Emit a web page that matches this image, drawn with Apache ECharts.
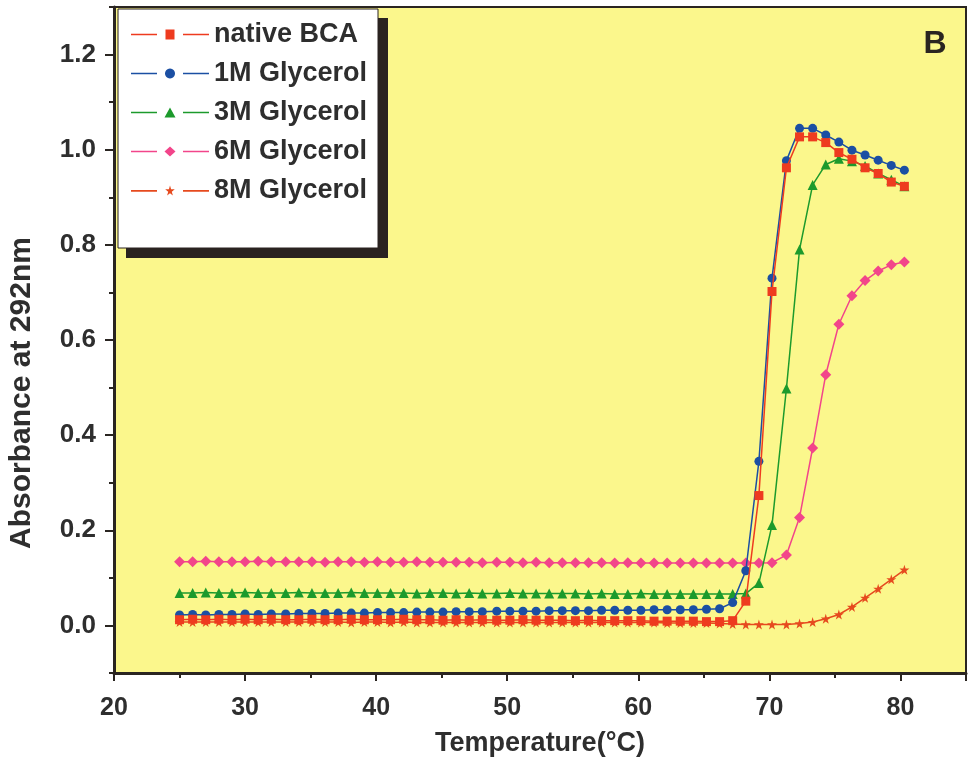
<!DOCTYPE html>
<html>
<head>
<meta charset="utf-8">
<script src="https://cdn.jsdelivr.net/npm/echarts@6/dist/echarts.min.js"></script>
<style>
html,body{margin:0;padding:0;background:#fff;}
#chart{width:969px;height:764px;}
</style>
</head>
<body>
<div id="chart"></div>
<script>
const temps = [25,26,27,28,29,30,31,32,33.1,34.1,
  35.1,36.1,37.1,38.1,39.1,40.1,41.1,42.1,43.1,44.1,
  45.1,46.1,47.1,48.1,49.2,50.2,51.2,52.2,53.2,54.2,
  55.2,56.2,57.2,58.2,59.2,60.2,61.2,62.2,63.2,64.2,
  65.2,66.2,67.2,68.2,69.2,70.2,71.3,72.3,73.3,74.3,
  75.3,76.3,77.3,78.3,79.3,80.3];

const seriesNames = ['native BCA','1M Glycerol','3M Glycerol','6M Glycerol','8M Glycerol'];

const nativeBCA = [0.012,0.013,0.012,0.013,0.012,0.013,0.012,0.013,0.012,0.012,
  0.013,0.012,0.012,0.013,0.012,0.012,0.012,0.013,0.012,0.012,
  0.011,0.012,0.011,0.012,0.011,0.011,0.012,0.011,0.011,0.011,
  0.010,0.011,0.010,0.010,0.010,0.010,0.009,0.009,0.009,0.009,
  0.008,0.008,0.010,0.051,0.273,0.702,0.962,1.027,1.027,1.015,
  0.994,0.980,0.962,0.950,0.932,0.923];

const glycerol1M = [0.022,0.023,0.022,0.023,0.023,0.024,0.023,0.024,0.024,0.025,
  0.025,0.025,0.026,0.026,0.026,0.027,0.027,0.027,0.028,0.028,
  0.028,0.029,0.029,0.029,0.030,0.030,0.030,0.030,0.031,0.031,
  0.031,0.031,0.032,0.032,0.032,0.032,0.033,0.033,0.033,0.033,
  0.034,0.035,0.048,0.115,0.345,0.730,0.977,1.045,1.045,1.031,
  1.016,0.999,0.989,0.978,0.967,0.957];

const glycerol3M = [0.068,0.068,0.069,0.068,0.068,0.069,0.068,0.068,0.068,0.069,
  0.068,0.068,0.068,0.069,0.068,0.068,0.068,0.068,0.067,0.068,
  0.068,0.067,0.068,0.067,0.067,0.068,0.067,0.067,0.067,0.067,
  0.067,0.066,0.067,0.066,0.066,0.067,0.066,0.066,0.066,0.066,
  0.066,0.066,0.066,0.067,0.089,0.211,0.498,0.790,0.926,0.969,
  0.981,0.976,0.966,0.950,0.937,0.923];

const glycerol6M = [0.134,0.134,0.135,0.134,0.134,0.134,0.135,0.134,0.134,0.134,
  0.134,0.133,0.134,0.134,0.133,0.134,0.133,0.133,0.134,0.133,
  0.133,0.133,0.133,0.132,0.133,0.133,0.132,0.133,0.132,0.132,
  0.132,0.132,0.132,0.131,0.132,0.131,0.131,0.131,0.131,0.131,
  0.131,0.131,0.131,0.131,0.131,0.132,0.148,0.227,0.373,0.527,
  0.633,0.693,0.725,0.745,0.758,0.764];

const glycerol8M = [0.007,0.007,0.007,0.007,0.007,0.007,0.007,0.007,0.007,0.007,
  0.007,0.007,0.007,0.006,0.007,0.007,0.006,0.007,0.006,0.006,
  0.006,0.006,0.006,0.006,0.006,0.006,0.006,0.006,0.006,0.006,
  0.006,0.006,0.006,0.006,0.006,0.006,0.006,0.005,0.005,0.005,
  0.005,0.004,0.003,0.002,0.002,0.002,0.002,0.004,0.007,0.014,
  0.023,0.039,0.058,0.077,0.097,0.117];

const xMajorTicks = [20,30,40,50,60,70,80];
const yMajorTicks = [0.0,0.2,0.4,0.6,0.8,1.0,1.2];

const colors = ['#ee3b1f','#1b4fa3','#1c9a2c','#f2458a','#e64a1e'];
const starPath = 'path://M50,0 L61,35 L98,35 L68,57 L79,91 L50,70 L21,91 L32,57 L2,35 L39,35 Z';
const symbols = ['rect','circle','triangle','diamond', starPath];
const sizes = [9,9,10,11,10];
const zs = [7,6,5,4,3];
const allValues = [nativeBCA, glycerol1M, glycerol3M, glycerol6M, glycerol8M];

const axisColor = '#2a2521';
const textColor = '#2e2e2e';
const fontFam = '"Liberation Sans", Arial, sans-serif';

// legend icons: "— symbol —" drawn as one filled path (width 78, height 10)
const segs = 'M0,4.2 L26,4.2 L26,5.8 L0,5.8 Z M52,4.2 L78,4.2 L78,5.8 L52,5.8 Z ';
function circlePoly(cx, cy, r) {
  let s = '';
  for (let k = 0; k < 24; k++) {
    const a = k / 24 * Math.PI * 2;
    s += (k === 0 ? 'M' : 'L') + (cx + r * Math.cos(a)).toFixed(2) + ',' + (cy + r * Math.sin(a)).toFixed(2) + ' ';
  }
  return s + 'Z';
}
const legendIcons = [
  'path://' + segs + 'M34.5,0 L43.5,0 L43.5,10 L34.5,10 Z',
  'path://' + segs + circlePoly(39, 5, 5),
  'path://' + segs + 'M39,0 L44.5,10 L33.5,10 Z',
  'path://' + segs + 'M39,0 L44.5,5 L39,10 L33.5,5 Z',
  'path://' + segs + 'M39,0 L40.1,3.5 L43.8,3.5 L40.8,5.7 L41.9,9.1 L39,7 L36.1,9.1 L37.2,5.7 L34.2,3.5 L37.9,3.5 Z'
];

const chart = echarts.init(document.getElementById('chart'), null, {renderer:'canvas'});

const series = seriesNames.map((name, i) => ({
  name: name,
  type: 'line',
  xAxisIndex: 0,
  yAxisIndex: 0,
  data: temps.map((t, k) => [t, allValues[i][k]]),
  symbol: symbols[i],
  symbolSize: sizes[i],
  showAllSymbol: true,
  z: zs[i],
  lineStyle: {color: colors[i], width: 1.5},
  itemStyle: {color: colors[i]},
  animation: false
}));

chart.setOption({
  animation: false,
  backgroundColor: '#ffffff',
  grid: {
    left: 114, right: 3, top: 7, bottom: 91,
    show: true,
    backgroundColor: '#fbf78c',
    borderColor: axisColor,
    borderWidth: 2
  },
  legend: {
    data: seriesNames.map((n, i) => ({name: n, icon: legendIcons[i]})),
    orient: 'vertical',
    left: 126,
    top: 16,
    itemWidth: 78,
    itemHeight: 10,
    itemGap: 12,
    symbolKeepAspect: false,
    z: 20,
    textStyle: {fontSize: 27, fontWeight: 'bold', color: textColor, fontFamily: fontFam}
  },
  xAxis: [
    {
      type: 'value', min: 20, max: 85, interval: 10, position: 'bottom',
      name: 'Temperature(°C)', nameLocation: 'middle', nameGap: 57,
      nameTextStyle: {fontSize: 27, fontWeight: 'bold', color: textColor, fontFamily: fontFam},
      axisLine: {show: true, onZero: false, lineStyle: {color: axisColor, width: 3}},
      axisTick: {show: true, length: 8, lineStyle: {color: axisColor, width: 2}},
      axisLabel: {
        margin: 23, fontSize: 25, fontWeight: 'bold', color: textColor, fontFamily: fontFam,
        formatter: v => xMajorTicks.indexOf(v) >= 0 ? String(v) : ''
      },
      splitLine: {show: false}
    },
    {
      type: 'value', min: 20, max: 85, interval: 5, position: 'bottom',
      axisLine: {show: false, onZero: false},
      axisTick: {show: true, length: 5, lineStyle: {color: axisColor, width: 2}},
      axisLabel: {show: false},
      splitLine: {show: false}
    }
  ],
  yAxis: [
    {
      type: 'value', min: -0.1, max: 1.3, interval: 0.1, position: 'left',
      axisLine: {show: true, onZero: false, lineStyle: {color: axisColor, width: 3}},
      axisTick: {show: true, length: 5, lineStyle: {color: axisColor, width: 2}},
      axisLabel: {show: false},
      splitLine: {show: false}
    },
    {
      type: 'value', min: -0.1, max: 1.3, position: 'left',
      axisLine: {show: false, onZero: false},
      axisTick: {show: true, length: 9, customValues: yMajorTicks, lineStyle: {color: axisColor, width: 2}},
      axisLabel: {
        show: true, customValues: yMajorTicks, margin: 18,
        fontSize: 26, fontWeight: 'bold', color: textColor, fontFamily: fontFam,
        formatter: v => v.toFixed(1)
      },
      splitLine: {show: false}
    }
  ],
  graphic: [
    {type: 'rect', z: 10, shape: {x: 126, y: 18, width: 262, height: 240}, style: {fill: '#2a2320'}},
    {type: 'rect', z: 11, shape: {x: 118, y: 9, width: 260, height: 239}, style: {fill: '#ffffff', stroke: '#2a2320', lineWidth: 1}},
    {type: 'text', z: 12, x: 935, y: 44,
      style: {text: 'B', font: 'bold 32px "Liberation Sans", Arial, sans-serif', fill: '#2a2521', textAlign: 'center', textVerticalAlign: 'middle'}},
    {type: 'text', z: 12, x: 22, y: 393, rotation: Math.PI / 2,
      style: {text: 'Absorbance at 292nm', font: 'bold 30px "Liberation Sans", Arial, sans-serif', fill: textColor, textAlign: 'center', textVerticalAlign: 'middle'}}
  ],
  series: series
});
</script>
</body>
</html>
